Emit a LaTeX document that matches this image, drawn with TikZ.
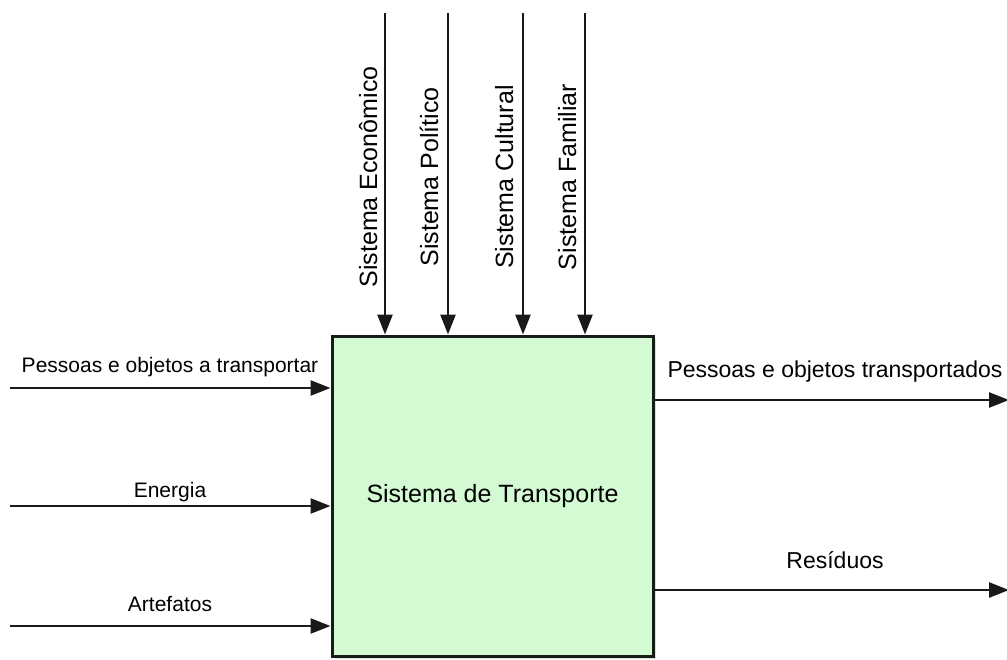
\documentclass[tikz,border=0pt]{standalone}
\usepackage{fontspec}
\setmainfont{Liberation Sans}
\usetikzlibrary{arrows.meta,shadows}
\definecolor{boxfill}{RGB}{212,250,212}
\definecolor{boxline}{RGB}{20,30,20}
\tikzset{
  arr/.style={line width=2.6pt, draw=black!90, -{Triangle[length=20pt,width=15pt]}},
  sysbox/.style={draw=boxline, line width=3pt, fill=boxfill, minimum width=321pt, minimum height=320pt, inner sep=0pt,
    drop shadow={opacity=0.25, shadow xshift=2.5pt, shadow yshift=-2.5pt}},
  toplbl/.style={rotate=90, anchor=base, inner sep=0pt, font=\fontsize{25}{30}\selectfont},
  leftlbl/.style={anchor=base, inner sep=0pt, font=\fontsize{21}{25}\selectfont},
  rightlbl/.style={anchor=base, inner sep=0pt, font=\fontsize{23}{28}\selectfont},
}
\begin{document}
\begin{tikzpicture}[x=1pt,y=-1pt]
\useasboundingbox (0,0) rectangle (1007,659);
\node[sysbox, font=\fontsize{25}{30}\selectfont] (sys) at (492.5,496) {Sistema de Transporte};
% top inputs
\coordinate (t1) at (385,13);
\coordinate (t2) at (448,13);
\coordinate (t3) at (523,13);
\coordinate (t4) at (585,13);
\draw[arr] (t1) -- (t1 |- sys.north);
\draw[arr] (t2) -- (t2 |- sys.north);
\draw[arr] (t3) -- (t3 |- sys.north);
\draw[arr] (t4) -- (t4 |- sys.north);
\node[toplbl] (lt1) at (377,177) {Sistema Econômico};
\node[toplbl] (lt2) at (438,177) {Sistema Político};
\node[toplbl] (lt3) at (513,177) {Sistema Cultural};
\node[toplbl] (lt4) at (576,177) {Sistema Familiar};
% left inputs
\coordinate (l1) at (10,388);
\coordinate (l2) at (10,506);
\coordinate (l3) at (10,626);
\draw[arr] (l1) -- (l1 -| sys.west);
\draw[arr] (l2) -- (l2 -| sys.west);
\draw[arr] (l3) -- (l3 -| sys.west);
\node[leftlbl] (ll1) at (170,372) {Pessoas e objetos a transportar};
\node[leftlbl] (ll2) at (170,497) {Energia};
\node[leftlbl] (ll3) at (170,611) {Artefatos};
% right outputs
\coordinate (r1) at (1009,400);
\coordinate (r2) at (1009,590);
\draw[arr] (r1 -| sys.east) -- (r1);
\draw[arr] (r2 -| sys.east) -- (r2);
\node[rightlbl] (lr1) at (835,377) {Pessoas e objetos transportados};
\node[rightlbl] (lr2) at (835,568) {Resíduos};
\end{tikzpicture}
\end{document}
